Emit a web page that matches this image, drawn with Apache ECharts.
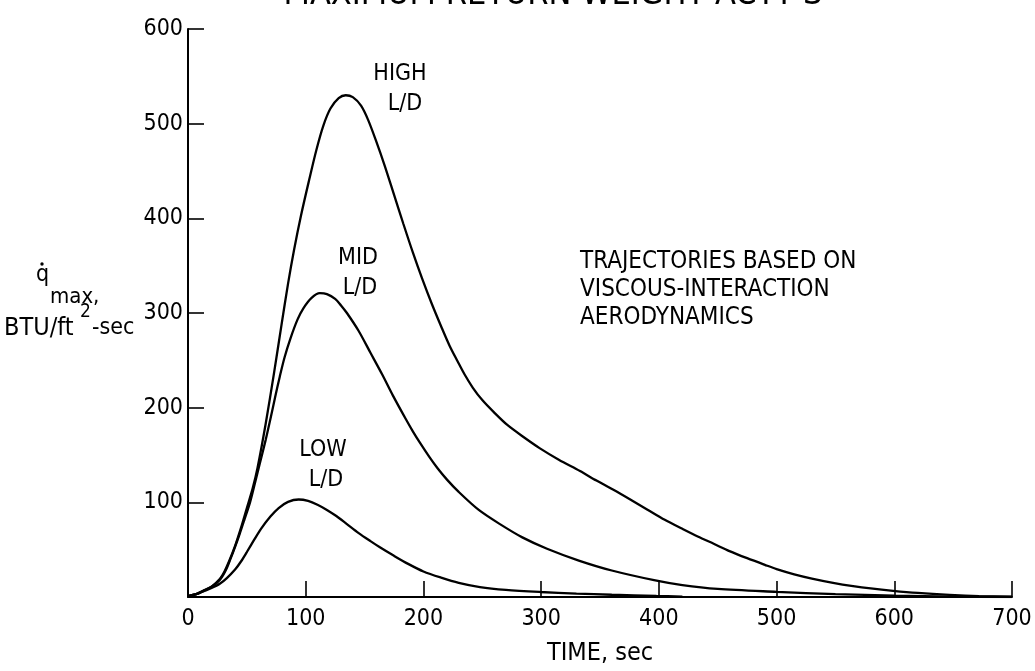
<!DOCTYPE html>
<html>
<head>
<meta charset="utf-8">
<script src="https://cdn.jsdelivr.net/npm/echarts@6/dist/echarts.min.js"></script>
<style>
html,body{margin:0;padding:0;background:#fff;}
#chart{width:1035px;height:671px;}
</style>
</head>
<body>
<div id="chart"></div>
<script>
// ---- data ----
var xTicks = [0, 100, 200, 300, 400, 500, 600, 700];
var yTicks = [100, 200, 300, 400, 500, 600];

var highTime = [0,7,13,20,27,31,35,40,45,50,55,59,66,73,79.5,85,90,96,103,109,115,121,128,134,140,147,153,160,167,175,183,191,199,207,215,222,229,235,242,250,260,271,285,299,315,333,347,361,375,390,405,420,433,447,460,475,490,500,515,530,548,565,580,599,620,647,672,700];
var highQ    = [1,3,6.5,11,19,27,38,54,73,94,115,136,183,236,288,331,366,403,441,472,498,516,527,530,528,519,504,481,456,425,394,364,336,310,286,266,249,235,221,208,195,182,169,157,145,133,123,113.5,103.5,92.5,81.5,72,64,56,48.5,41,34,29.5,24,19.5,15,11.5,9,6.5,4.3,2.3,1,0.3];

var midTime = [0,7,13,20,27,32,36,40,44,48,52.7,57,61,66,70,74,78,82,87,93,98,105,112,118,125,130,135,145,155,165,174,185,191,197,205,212,220,230,247,265,284,305,332,360,397,420,450,500,550,600,650,700];
var midQ    = [1,3,6.5,11,18,28,40,53,67,82,100,121,141,166,188,211,233,253,273,293,305,316,321,320,315,308,300,281,258,235,213,188,175,163,148,136,124,111,92,77,63,51,38.5,28,17.5,12.5,8.5,5.5,3,1.5,0.5,0];

var lowTime = [0,7,13,20,27,33,40,45,50,56,62,70,77,85,94,102,110,118,126,135,145,155,163,175,187,200,215,230,248,270,299,330,360,398,420];
var lowQ    = [1,3,6,9.5,14,20,29,37.5,47.5,60,72,85,94,100.5,103,101.5,97.5,92,85.5,77,67.5,59,52.5,43.5,35,27,20.5,15,10.5,7.5,5.3,3.6,2.4,1.1,0.5];

var seriesNames = ['HIGH L/D', 'MID L/D', 'LOW L/D'];
var titleText = 'MAXIMUM RETURN WEIGHT ACTT\u2019S';
var xName = 'TIME, sec';
var noteLines = ['TRAJECTORIES BASED ON', 'VISCOUS-INTERACTION', 'AERODYNAMICS'];

function pairs(t, v) { return t.map(function (x, i) { return [x, v[i]]; }); }

var FONT = "'DejaVu Sans Condensed', 'Liberation Sans Narrow', 'Liberation Sans', sans-serif";
var chart = echarts.init(document.getElementById('chart'));

var lineStyle = { color: '#000', width: 2.3 };
function mkSeries(name, t, v) {
  return { name: name, type: 'line', data: pairs(t, v), smooth: 0.3,
           showSymbol: false, symbol: 'none', lineStyle: lineStyle, silent: true, animation: false };
}

function txt(x, y, s, size, align) {
  return { type: 'text', x: x, y: y, silent: true,
           style: { text: s, fill: '#000', font: (size || 20) + 'px ' + FONT,
                    textAlign: align || 'center', textVerticalAlign: 'middle' } };
}

var graphics = [
  txt(553, -5, titleText, 34),
  txt(400, 74, 'HIGH', 23), txt(405, 104, 'L/D', 23),
  txt(358, 258, 'MID', 23), txt(360, 288, 'L/D', 23),
  txt(323, 450, 'LOW', 23), txt(326, 480, 'L/D', 23),
  txt(580, 262, noteLines[0], 24, 'left'),
  txt(580, 290, noteLines[1], 24, 'left'),
  txt(580, 318, noteLines[2], 24, 'left'),
  // y-axis title: q-dot with subscript "max,", then BTU/ft^2-sec
  txt(36, 275, 'q', 23, 'left'),
  { type: 'circle', silent: true, shape: { cx: 42, cy: 264, r: 1.7 }, style: { fill: '#000' } },
  txt(50, 297, 'max,', 22, 'left'),
  txt(4, 328, 'BTU/ft', 25, 'left'),
  txt(80, 312, '2', 19, 'left'),
  txt(92, 328, '-sec', 23, 'left')
];

chart.setOption({
  backgroundColor: '#fff',
  animation: false,
  grid: { left: 188, right: 23, top: 29, bottom: 73, containLabel: false },
  xAxis: {
    type: 'value', min: 0, max: 700, interval: 100,
    name: xName, nameLocation: 'middle', nameGap: 44,
    nameTextStyle: { color: '#000', fontSize: 25, fontFamily: FONT },
    axisLine: { show: true, lineStyle: { color: '#000', width: 2 } },
    axisTick: { show: true, inside: true, length: 16, lineStyle: { color: '#000', width: 1.6 } },
    axisLabel: { color: '#000', fontSize: 23, fontFamily: FONT, margin: 11,
                 formatter: function (v) { return xTicks.indexOf(v) >= 0 ? String(v) : ''; } },
    splitLine: { show: false }
  },
  yAxis: {
    type: 'value', min: 0, max: 600, interval: 100,
    axisLine: { show: true, lineStyle: { color: '#000', width: 2 } },
    axisTick: { show: true, inside: true, length: 16, lineStyle: { color: '#000', width: 1.6 } },
    axisLabel: { color: '#000', fontSize: 23, fontFamily: FONT, margin: 5,
                 formatter: function (v) { return yTicks.indexOf(v) >= 0 ? String(v) : ''; } },
    splitLine: { show: false }
  },
  series: [
    mkSeries(seriesNames[0], highTime, highQ),
    mkSeries(seriesNames[1], midTime, midQ),
    mkSeries(seriesNames[2], lowTime, lowQ)
  ],
  graphic: graphics
});
</script>
</body>
</html>
